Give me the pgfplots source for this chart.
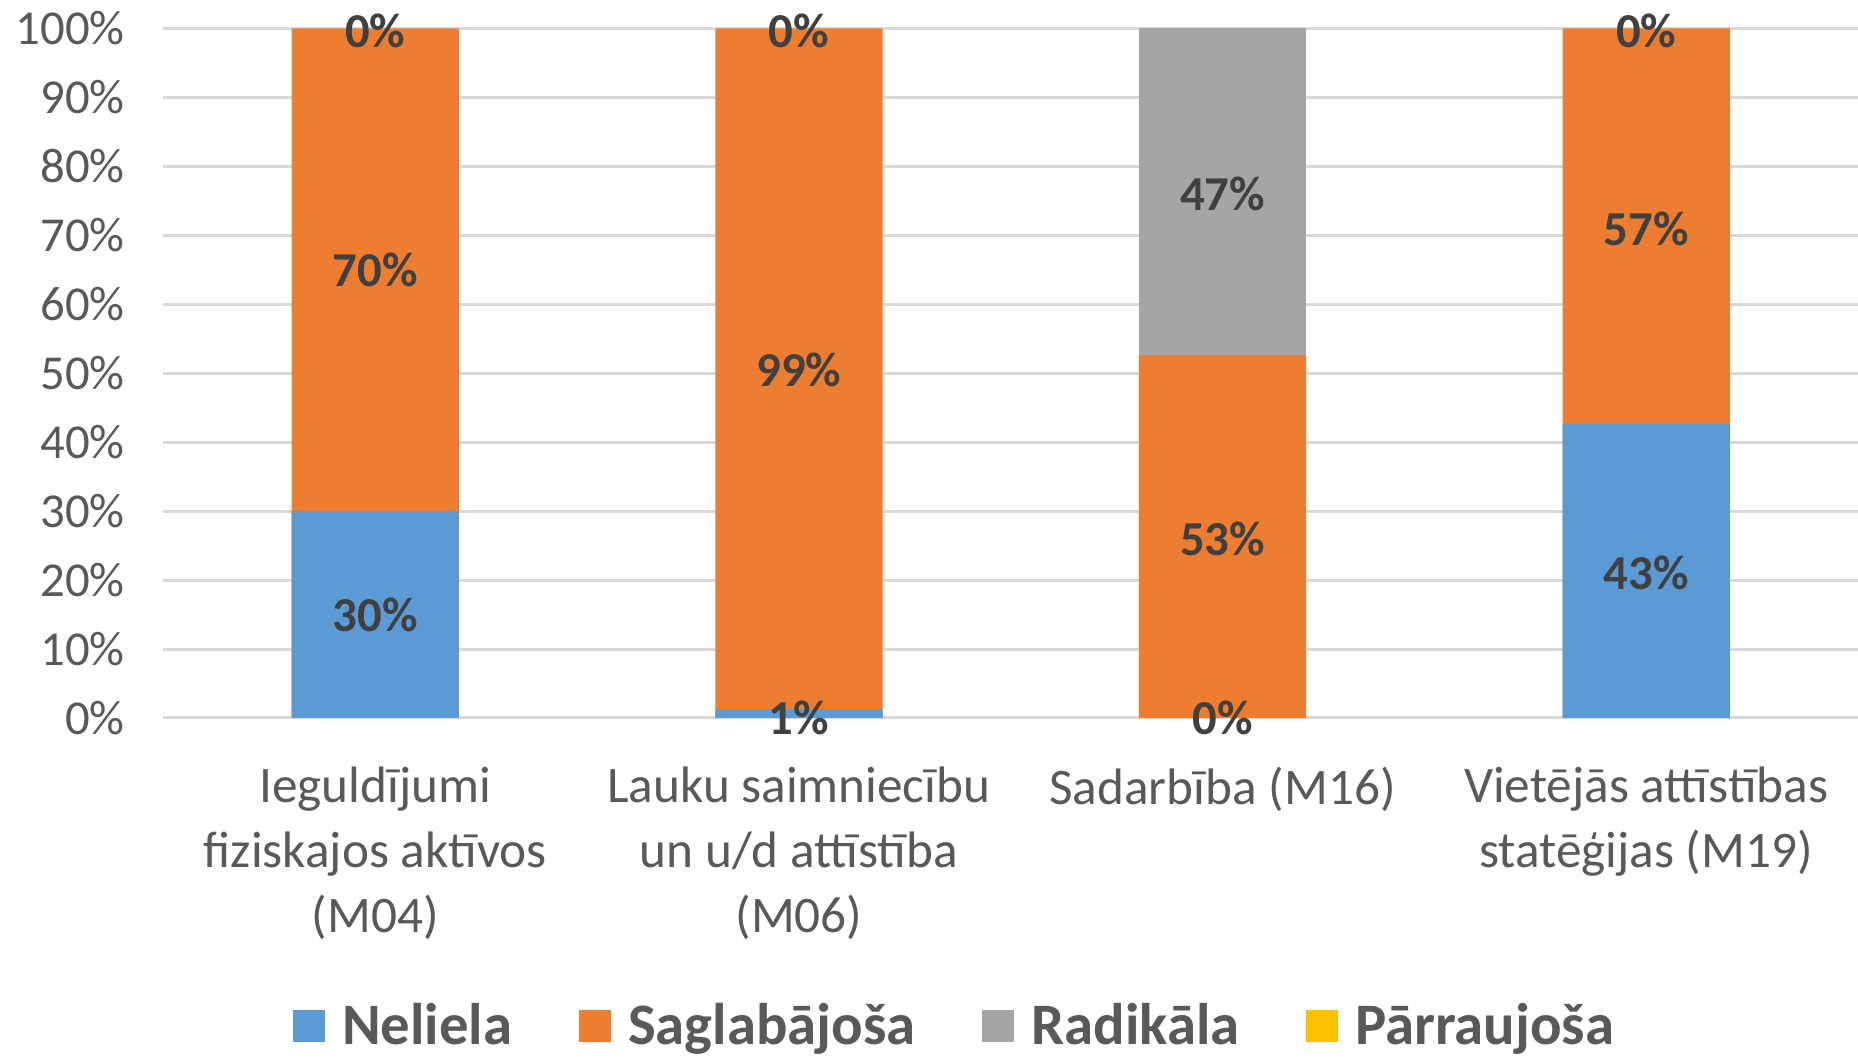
\documentclass[border=0pt]{standalone}
\usepackage{pgfplots}
\pgfplotsset{compat=1.18}
\usepackage{fontspec}
\setmainfont{Carlito}
\definecolor{cB}{HTML}{5B9BD5}
\definecolor{cO}{HTML}{ED7D31}
\definecolor{cG}{HTML}{A5A5A5}
\definecolor{cY}{HTML}{FFC000}
\definecolor{gridc}{HTML}{D9D9D9}
\definecolor{tickc}{HTML}{595959}
\definecolor{labc}{HTML}{404040}
\begin{document}
\begin{tikzpicture}
\begin{axis}[name=ax,
  scale only axis, width=677.8pt, height=275.8pt,
  xmin=-0.5, xmax=3.5, ymin=0, ymax=100,
  clip=false,
  axis line style={draw=none},
  major tick length=0pt,
  ytick={0,10,...,100},
  yticklabel={\pgfmathprintnumber{\tick}\%},
  /pgf/number format/assume math mode=true,
  ymajorgrids, grid style={gridc, line width=1.2pt},
  yticklabel style={font=\fontsize{19.5}{19.5}\selectfont, text=tickc, xshift=-12pt},
  xtick={0,1,2,3},
  xticklabels={{Ieguldījumi\\fiziskajos aktīvos\\(M04)},{Lauku saimniecību\\un u/d attīstība\\(M06)},{Sadarbība (M16)},{Vietējās attīstības\\statēģijas (M19)}},
  xticklabel style={font=\fontsize{20.5}{26}\selectfont, text=tickc, align=center, yshift=-16pt},
  legend columns=4,
  legend cell align=left,
  legend style={at={(0.4677,-0.4469)}, anchor=center, draw=none, fill=none,
    font=\bfseries\fontsize{23.5}{23.5}\selectfont, text=tickc,
    /tikz/every odd column/.append style={column sep=5pt},
    /tikz/every even column/.append style={column sep=24.5pt}},
]
\addlegendimage{legend image code/.code={\fill[cB] (0pt,-6.2pt) rectangle (12.4pt,6.2pt);}}
\addlegendentry{Neliela}
\addlegendimage{legend image code/.code={\fill[cO] (0pt,-6.2pt) rectangle (12.4pt,6.2pt);}}
\addlegendentry{Saglabājoša}
\addlegendimage{legend image code/.code={\fill[cG] (0pt,-6.2pt) rectangle (12.4pt,6.2pt);}}
\addlegendentry{Radikāla}
\addlegendimage{legend image code/.code={\fill[cY] (0pt,-6.2pt) rectangle (12.4pt,6.2pt);}}
\addlegendentry{Pārraujoša}
% cumulative tops of the stacked segments, drawn from the back to the front
\addplot[ybar, bar width=66.9pt, bar shift=0pt, fill=cG, draw=none, forget plot]
  coordinates {(2,100)};
\addplot[ybar, bar width=66.9pt, bar shift=0pt, fill=cO, draw=none, forget plot]
  coordinates {(0,100) (1,100) (2,52.6) (3,100)};
\addplot[ybar, bar width=66.9pt, bar shift=0pt, fill=cB, draw=none, forget plot]
  coordinates {(0,30) (1,1.3) (3,42.7)};
% data labels
\addplot[draw=none, mark=none, forget plot, nodes near coords, point meta=explicit symbolic,
  nodes near coords style={anchor=center, inner sep=0pt, font=\bfseries\fontsize{19.5}{19.5}\selectfont, text=labc}]
  coordinates {
  (0,15) [30\%] (0,65) [70\%] (0,99.7) [0\%]
  (1,0) [1\%] (1,50.5) [99\%] (1,99.7) [0\%]
  (2,0) [0\%] (2,26) [53\%] (2,76) [47\%]
  (3,21) [43\%] (3,71) [57\%] (3,99.7) [0\%]
  };
\end{axis}
\pgfresetboundingbox
\path[use as bounding box] ([shift={(-65.4pt,-137.2pt)}]ax.south west) rectangle ([shift={(0pt,11.4pt)}]ax.north east);
\end{tikzpicture}
\end{document}
